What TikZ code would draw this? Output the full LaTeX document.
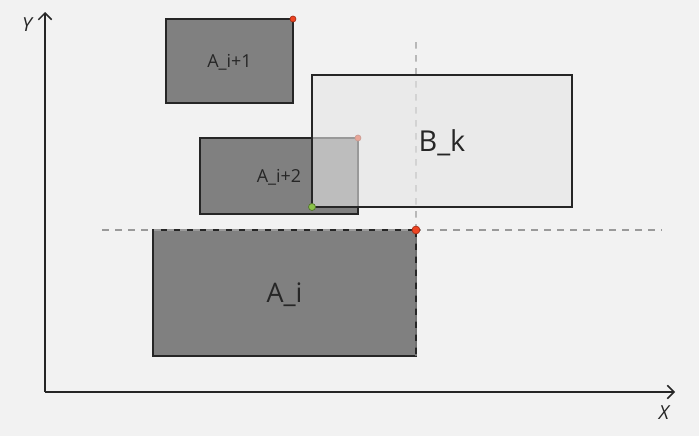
\documentclass[tikz,border=0pt]{standalone}
\usepackage{fontspec}
\setmainfont{Open Sans}
\usetikzlibrary{arrows.meta,positioning}

\definecolor{bgcol}{HTML}{F2F2F2}
\definecolor{boxgray}{HTML}{808080}
\definecolor{boxlight}{HTML}{E6E6E6}
\definecolor{edgecol}{HTML}{262626}
\definecolor{dashcol}{HTML}{9A9A9A}
\definecolor{dotred}{HTML}{EE4422}
\definecolor{dotgreen}{HTML}{8BC34A}

\tikzset{
  rect/.style={draw=edgecol, line width=0.9pt, fill=boxgray, inner sep=0pt, outer sep=0pt, anchor=north west, text=edgecol, text depth=0pt},
  small/.style={font=\fontsize{10.2}{12}\selectfont, text height=7.3pt},
  big/.style={font=\fontsize{#1}{19}\selectfont, text height=0.714*#1 pt},
  guide/.style={dashcol, line width=0.8pt, dash pattern=on 3.8pt off 3.6pt},
  axis/.style={edgecol, line width=0.9pt, -{Straight Barb[length=3.8pt, width=7.6pt]}},
  dot/.style={circle, line width=0.4pt, inner sep=0pt, minimum size=#1},
  axlabel/.style={inner sep=0pt, text=edgecol, font=\fontsize{11}{13}\selectfont\itshape},
}

\begin{document}
\begin{tikzpicture}[x=0.02cm, y=-0.02cm]
  \fill[bgcol] (0,0) rectangle (699,436);

  \coordinate (o) at (45,392);
  \coordinate (ytip) at (45,12);
  \coordinate (xtip) at (675,392);
  \draw[axis] (o) -- (ytip);
  \draw[axis] (o) -- (xtip);
  \node[axlabel] (ylab) at (27,25) {Y};
  \node[axlabel] (xlab) at (664,413) {X};

  \node[rect, big=15.3, minimum width=5.26cm, minimum height=2.52cm] (ai) at (153,230) {A\_i};
  \node[rect, small, minimum width=3.16cm, minimum height=1.52cm] (ai2) at (200,138) {A\_i+2};
  \node[rect, small, minimum width=2.54cm, minimum height=1.68cm] (ai1) at (166,19) {A\_i+1};
  \node[dot=3.4pt, fill=dotred, draw=dotred!70!black] (p2) at (ai2.north east) {};

  \coordinate (hl) at (102,230);
  \coordinate (hr) at (662,230);
  \coordinate (vt) at (416,42);
  \draw[guide] (hl) -- (hr);
  \draw[guide] (vt) -- (ai.south east);

  \node[rect, big=16.4, fill=boxlight, fill opacity=0.6, text opacity=1, minimum width=5.2cm, minimum height=2.64cm] (bk) at (312,75) {B\_k};

  \node[dot=4pt, fill=dotgreen, draw=dotgreen!60!black] (g) at (bk.south west) {};
  \node[dot=3.4pt, fill=dotred, draw=dotred!70!black] (p1) at (ai1.north east) {};
  \node[dot=4.5pt, fill=dotred, draw=dotred!70!black] (p0) at (ai.north east) {};
\end{tikzpicture}
\end{document}
